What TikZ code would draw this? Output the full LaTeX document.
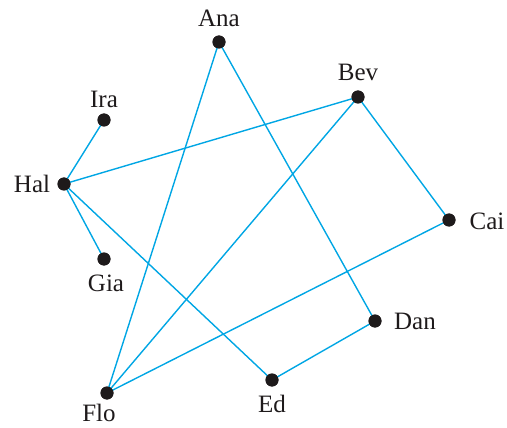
\documentclass[tikz,border=0pt]{standalone}
\usepackage{fontspec}
\setmainfont{Liberation Serif}
\definecolor{edgeblue}{RGB}{0,166,228}
\definecolor{dotblack}{RGB}{30,26,27}
\begin{document}
\begin{tikzpicture}[x=1pt,y=-1pt,
  vtx/.style={circle,fill=dotblack,inner sep=0pt,minimum size=13pt},
  lbl/.style={font=\fontsize{25}{28}\selectfont,text=dotblack,inner sep=0pt},
  edge/.style={draw=edgeblue,line width=1.4pt}]
\useasboundingbox (0,0) rectangle (507,428);
\node[vtx] (ana) at (219,42) {};
\node[vtx] (bev) at (358,97) {};
\node[vtx] (ira) at (104,120) {};
\node[vtx] (hal) at (64,184) {};
\node[vtx] (cai) at (449,220) {};
\node[vtx] (gia) at (104,259) {};
\node[vtx] (dan) at (375,321) {};
\node[vtx] (ed) at (272,380) {};
\node[vtx] (flo) at (107,393) {};
\node[lbl] (tana) at (219,18) {Ana};
\node[lbl] (tbev) at (358,72) {Bev};
\node[lbl] (tira) at (104,99) {Ira};
\node[lbl] (thal) at (32,184) {Hal};
\node[lbl] (tcai) at (487,221) {Cai};
\node[lbl] (tgia) at (106,283) {Gia};
\node[lbl] (tdan) at (415,321) {Dan};
\node[lbl] (ted) at (272,404) {Ed};
\node[lbl] (tflo) at (99,413) {Flo};
\draw[edge] (ira.center) -- (hal.center);
\draw[edge] (hal.center) -- (gia.center);
\draw[edge] (hal.center) -- (bev.center);
\draw[edge] (hal.center) -- (ed.center);
\draw[edge] (ana.center) -- (flo.center);
\draw[edge] (ana.center) -- (dan.center);
\draw[edge] (bev.center) -- (flo.center);
\draw[edge] (bev.center) -- (cai.center);
\draw[edge] (cai.center) -- (flo.center);
\draw[edge] (dan.center) -- (ed.center);
\foreach \n in {ana,bev,ira,hal,cai,gia,dan,ed,flo}
  \fill[dotblack] (\n) circle (6.5pt);
\end{tikzpicture}
\end{document}
